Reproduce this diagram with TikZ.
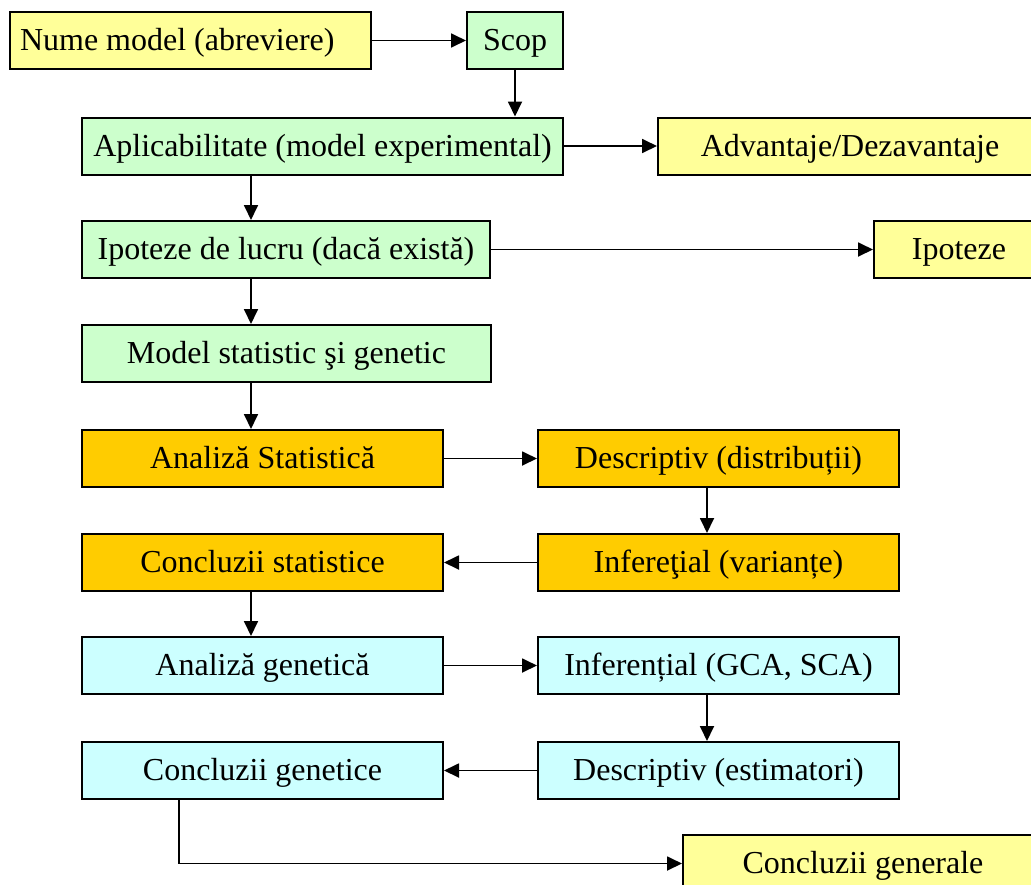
\documentclass[tikz,border=0pt]{standalone}
\usepackage{fontspec}
\setmainfont{Liberation Serif}
\usetikzlibrary{arrows.meta}
\definecolor{galben}{HTML}{FFFF99}
\definecolor{verde}{HTML}{CCFFCC}
\definecolor{portocaliu}{HTML}{FFCC00}
\definecolor{turcoaz}{HTML}{CCFFFF}
\begin{document}
\begin{tikzpicture}[x=1pt,y=-1pt]
		\tikzset{box/.style = {shape=rectangle,draw,line width=2pt,inner sep=0pt,minimum height=57pt,text height=27pt,text depth=6.5pt,font=\fontsize{32}{38}\selectfont}}
		\tikzset{edge/.style = {-{Triangle[length=15pt,width=14pt]},line width=1.8pt}}
		\useasboundingbox (0,0) rectangle (1031,884);
		\clip (0,0) rectangle (1031,884);
		\node[box,fill=galben,minimum width=361pt,text width=341pt,align=flush left] (nume) at (190.5,40.5) {Nume model (abreviere)};
		\node[box,fill=verde,minimum width=96pt] (scop) at (515,40.5) {Scop};
		\node[box,fill=verde,minimum width=481pt] (aplic) at (322.5,146) {Aplicabilitate (model experimental)};
		\node[box,fill=galben,minimum width=384pt] (avantaje) at (850,146) {Advantaje/Dezavantaje};
		\node[box,fill=verde,minimum width=408pt] (lucru) at (286,249.5) {Ipoteze de lucru (dacă există)};
		\node[box,fill=galben,minimum width=170pt] (ipoteze) at (959,249.5) {Ipoteze};
		\node[box,fill=verde,minimum width=409pt] (model) at (286.5,353.5) {Model statistic şi genetic};
		\node[box,fill=portocaliu,minimum width=361pt] (astat) at (262.5,458.5) {Analiză Statistică};
		\node[box,fill=portocaliu,minimum width=361pt] (distrib) at (718.5,458.5) {Descriptiv (distribuții)};
		\node[box,fill=portocaliu,minimum width=361pt] (cstat) at (262.5,562.5) {Concluzii statistice};
		\node[box,fill=portocaliu,minimum width=361pt] (variante) at (718.5,562.5) {Infereţial (varianțe)};
		\node[box,fill=turcoaz,minimum width=361pt] (agen) at (262.5,665.5) {Analiză genetică};
		\node[box,fill=turcoaz,minimum width=361pt] (gca) at (718.5,665.5) {Inferențial (GCA, SCA)};
		\node[box,fill=turcoaz,minimum width=361pt] (cgen) at (262.5,770.5) {Concluzii genetice};
		\node[box,fill=turcoaz,minimum width=361pt] (estim) at (718.5,770.5) {Descriptiv (estimatori)};
		\node[box,fill=galben,minimum width=360pt] (generale) at (863,863.5) {Concluzii generale};
		\coordinate (stg) at (251,0);
		\coordinate (dr) at (707,0);
		\coordinate (jos) at (179,863.5);
		\draw[edge] (nume) -- (scop);
		\draw[edge] (scop) -- (aplic.north -| scop);
		\draw[edge] (aplic) -- (avantaje.west |- aplic);
		\draw[edge] (aplic.south -| stg) -- (lucru.north -| stg);
		\draw[edge] (lucru) -- (ipoteze);
		\draw[edge] (lucru.south -| stg) -- (model.north -| stg);
		\draw[edge] (model.south -| stg) -- (astat.north -| stg);
		\draw[edge] (astat) -- (distrib);
		\draw[edge] (distrib.south -| dr) -- (variante.north -| dr);
		\draw[edge] (variante) -- (cstat);
		\draw[edge] (cstat.south -| stg) -- (agen.north -| stg);
		\draw[edge] (agen) -- (gca);
		\draw[edge] (gca.south -| dr) -- (estim.north -| dr);
		\draw[edge] (estim) -- (cgen);
		\draw[edge] (cgen.south -| jos) -- (jos) -- (generale.west |- jos);
	\end{tikzpicture}
\end{document}
